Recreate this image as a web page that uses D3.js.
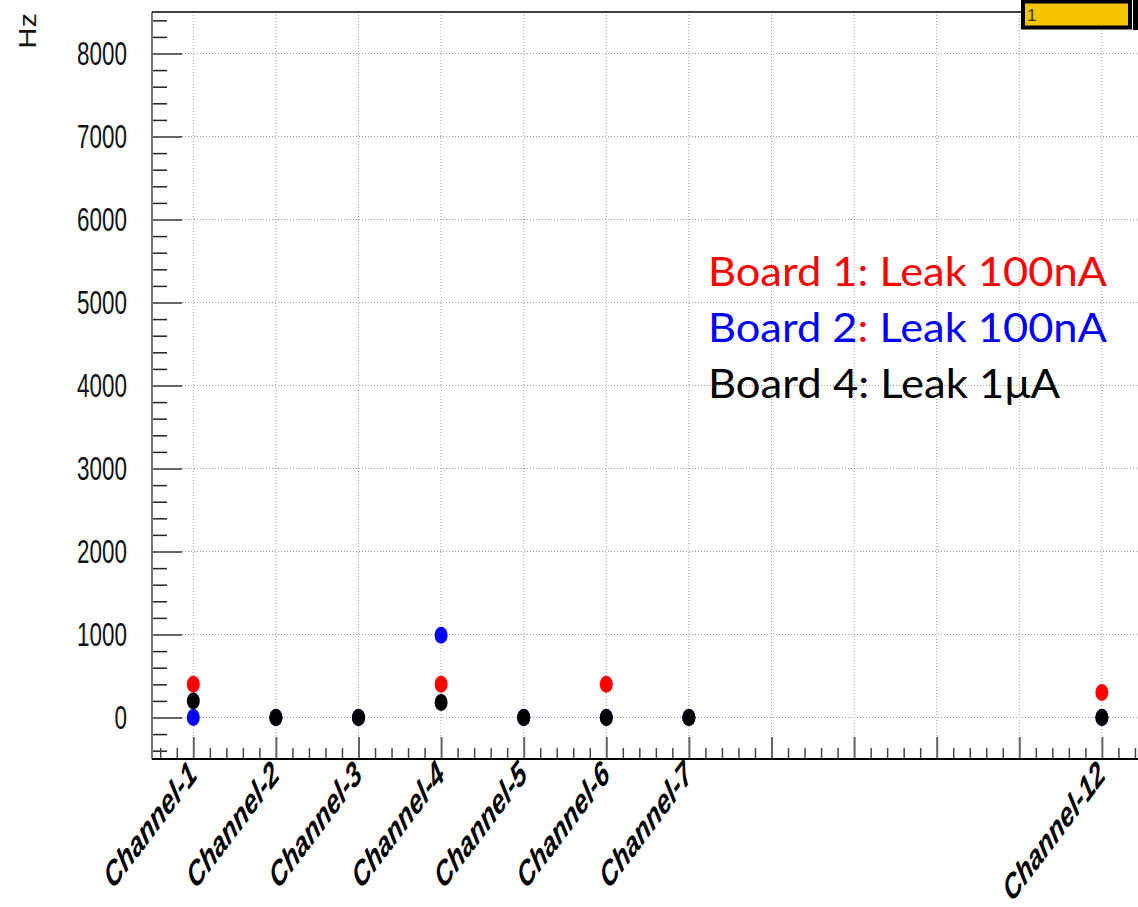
<!DOCTYPE html>
<html>
<head>
<meta charset="utf-8">
<script src="https://cdn.jsdelivr.net/npm/d3@7"></script>
<style>
  html, body { margin: 0; padding: 0; background: #fff; }
  svg { display: block; }
</style>
</head>
<body>
<svg id="chart" width="1138" height="907"></svg>
<script>
// Channel bins (only some are labelled on the axis)
const channels = [1, 2, 3, 4, 5, 6, 7, 8, 9, 10, 11, 12];
const channelLabels = ["Channel-1", "Channel-2", "Channel-3", "Channel-4", "Channel-5",
                       "Channel-6", "Channel-7", "", "", "", "", "Channel-12"];

// Rates in Hz per channel (null = no measurement)
const board1 = [400, 0, 0, 400, 0, 400, 0, null, null, null, null, 300];
const board2 = [0, 0, 0, 990, 0, 0, 0, null, null, null, null, 0];
const board4 = [200, 0, 0, 180, 0, 0, 0, null, null, null, null, 0];

const yMajorTicks = [0, 1000, 2000, 3000, 4000, 5000, 6000, 7000, 8000];
const yTitle = "Hz";

const series = [
  { name: "Board 1", values: board1, color: "#ff0000" },
  { name: "Board 2", values: board2, color: "#0000ff" },
  { name: "Board 4", values: board4, color: "#000000" }
];

const svg = d3.select("#chart");
const plotLeft = 152, plotTop = 12, plotBottom = 759;
const step = 82.6;

const x = d3.scaleLinear().domain([0.5, 12.5]).range([plotLeft, plotLeft + 12 * step]);
const y = d3.scaleLinear().domain([-500, 8500]).range([plotBottom, plotTop]);

const xMinor = d3.range(0.6, 12.5, 0.2).map(v => +v.toFixed(1)).filter(v => Math.abs(v - Math.round(v)) > 1e-6);
const yMinor = d3.range(-400, 8500, 200).filter(v => v % 1000 !== 0);

// Grid
const grid = svg.append("g").attr("stroke", "#9a9a9a").attr("stroke-width", 1).attr("stroke-dasharray", "1,2");
grid.selectAll("line.h").data(yMajorTicks).join("line")
  .attr("x1", plotLeft).attr("x2", 1138).attr("y1", d => y(d)).attr("y2", d => y(d));
grid.selectAll("line.v").data(channels).join("line")
  .attr("y1", plotTop).attr("y2", plotBottom).attr("x1", d => x(d)).attr("x2", d => x(d));

// Y axis: major and minor ticks drawn inward
const yAxisMajor = d3.axisRight(y).tickValues(yMajorTicks).tickSize(30).tickFormat("");
const gyMaj = svg.append("g").attr("transform", `translate(${plotLeft},0)`).call(yAxisMajor);
gyMaj.select(".domain").remove();
gyMaj.selectAll(".tick line").attr("stroke", "#666").attr("stroke-width", 2);

const yAxisMinor = d3.axisRight(y).tickValues(yMinor).tickSize(15).tickFormat("");
const gyMin = svg.append("g").attr("transform", `translate(${plotLeft},0)`).call(yAxisMinor);
gyMin.select(".domain").remove();
gyMin.selectAll(".tick line").attr("stroke", "#222").attr("stroke-width", 1.5);

// Y tick labels (narrow Helvetica-like)
svg.append("g").selectAll("text").data(yMajorTicks).join("text")
  .attr("transform", d => `translate(127,${y(d) + 11}) scale(0.68,1)`)
  .attr("text-anchor", "end")
  .attr("font-family", "Liberation Sans, Arial, sans-serif")
  .attr("font-size", 33)
  .attr("fill", "#111")
  .text(d => d);

// X axis: ticks pointing up from the bottom
const xAxisMajor = d3.axisBottom(x).tickValues(channels).tickSize(-22).tickFormat("");
const gxMaj = svg.append("g").attr("transform", `translate(0,${plotBottom})`).call(xAxisMajor);
gxMaj.select(".domain").remove();
gxMaj.selectAll(".tick line").attr("stroke", "#666").attr("stroke-width", 2);

const xAxisMinor = d3.axisBottom(x).tickValues(xMinor).tickSize(-11).tickFormat("");
const gxMin = svg.append("g").attr("transform", `translate(0,${plotBottom})`).call(xAxisMinor);
gxMin.select(".domain").remove();
gxMin.selectAll(".tick line").attr("stroke", "#444").attr("stroke-width", 1.5);

// Frame lines
svg.append("line").attr("x1", plotLeft).attr("x2", plotLeft).attr("y1", plotTop).attr("y2", plotBottom)
  .attr("stroke", "#777").attr("stroke-width", 2);
svg.append("line").attr("x1", plotLeft).attr("x2", 1138).attr("y1", plotBottom).attr("y2", plotBottom)
  .attr("stroke", "#000").attr("stroke-width", 2);
svg.append("line").attr("x1", plotLeft).attr("x2", 1022).attr("y1", plotTop).attr("y2", plotTop)
  .attr("stroke", "#000").attr("stroke-width", 1.5);

// Channel labels, rotated and condensed
svg.append("g").selectAll("text").data(channels.filter((c, i) => channelLabels[i] !== "")).join("text")
  .attr("transform", d => `translate(${x(d) + 5},${plotBottom + 18}) scale(0.68,1) rotate(-42)`)
  .attr("text-anchor", "end")
  .attr("font-family", "Liberation Sans, Arial, sans-serif")
  .attr("font-weight", "bold")
  .attr("font-style", "italic")
  .attr("font-size", 35)
  .attr("fill", "#000")
  .text(d => channelLabels[d - 1]);

// Y title
svg.append("text")
  .attr("transform", "translate(36,13) scale(0.85,1) rotate(-90)")
  .attr("text-anchor", "end")
  .attr("font-family", "Liberation Sans, Arial, sans-serif")
  .attr("font-size", 29)
  .attr("fill", "#111")
  .text(yTitle);

// Markers
const pts = svg.append("g");
series.forEach(s => {
  pts.append("g").selectAll("ellipse")
    .data(channels.map((c, i) => ({ c, v: s.values[i] })).filter(d => d.v !== null))
    .join("ellipse")
    .attr("cx", d => x(d.c)).attr("cy", d => y(d.v))
    .attr("rx", 6.5).attr("ry", 8.5)
    .attr("fill", s.color);
});

// Board annotation
const notes = [
  { parts: [["Board 1: Leak 100nA", "#ff0000"]], base: 286, width: 399 },
  { parts: [["Board 2", "#0000ff"], [":", "#ff0000"], [" Leak 100nA", "#0000ff"]], base: 342, width: 399 },
  { parts: [["Board 4: Leak 1μA", "#000000"]], base: 398, width: 352 }
];
notes.forEach(n => {
  const t = svg.append("text")
    .attr("x", 708).attr("y", n.base)
    .attr("font-family", "Lato, 'Open Sans', sans-serif")
    .attr("font-size", 41)
    .attr("textLength", n.width)
    .attr("lengthAdjust", "spacingAndGlyphs");
  n.parts.forEach(p => t.append("tspan").attr("fill", p[1]).text(p[0]));
});

// Palette box in the corner
svg.append("rect").attr("x", 1023).attr("y", 1.5).attr("width", 107).attr("height", 26)
  .attr("fill", "#f7c500").attr("stroke", "#000").attr("stroke-width", 4);
svg.append("rect").attr("x", 1133).attr("y", 0).attr("width", 5).attr("height", 30).attr("fill", "#000");
svg.append("text").attr("x", 1027).attr("y", 21)
  .attr("font-family", "Liberation Sans, Arial, sans-serif").attr("font-size", 17)
  .attr("fill", "#333").text("1");
</script>
</body>
</html>
